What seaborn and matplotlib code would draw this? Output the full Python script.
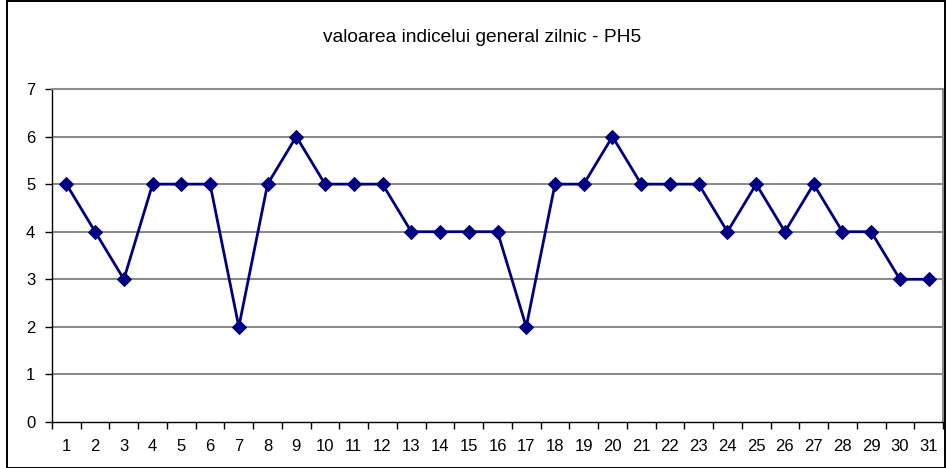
import matplotlib
matplotlib.use("Agg")
import matplotlib.pyplot as plt
import seaborn as sns
import pandas as pd
from matplotlib.patches import Rectangle
from matplotlib.ticker import FixedLocator

days = list(range(1, 32))
values = [5, 4, 3, 5, 5, 5, 2, 5, 6, 5, 5, 5, 4, 4, 4, 4, 2, 5, 5, 6, 5, 5, 5, 4, 5, 4, 5, 4, 4, 3, 3]
title = "valoarea indicelui general zilnic - PH5"

sns.set_theme(style="white")
plt.rcParams['font.family'] = ['Liberation Sans', 'DejaVu Sans']

df = pd.DataFrame({"zi": days, "valoare": values})

fig = plt.figure(figsize=(9.46, 4.68), dpi=100)
W, H = 946, 468
ax = fig.add_axes([52 / W, (H - 422) / H, 891 / W, 333 / H])

# outer frame
fig.patches.append(Rectangle((7 / W, 0.5 / H), (945 - 7) / W, (H - 1) / H,
                             transform=fig.transFigure, fill=False,
                             edgecolor="black", linewidth=1.4, zorder=0))

for y in range(1, 8):
    ax.axhline(y, color="#737373", linewidth=1.2, zorder=1)

sns.lineplot(data=df, x="zi", y="valoare", ax=ax, color="#000080",
             linewidth=2, marker="D", markersize=7.5, markeredgecolor="#000080",
             zorder=3)

ax.set_xlim(0.5, 31.5)
ax.set_ylim(0, 7)
ax.set_xticks(days)
ax.set_xticklabels([str(d) for d in days], fontsize=12, color="black")
ax.set_yticks(range(0, 8))
ax.set_yticklabels([str(v) for v in range(0, 8)], fontsize=12, color="black")
ax.xaxis.set_minor_locator(FixedLocator([d + 0.5 for d in range(0, 32)]))
ax.tick_params(axis="x", which="major", bottom=False, length=0, pad=12)
ax.tick_params(axis="x", which="minor", bottom=True, length=5, width=1, color="black", direction="out")
ax.tick_params(axis="y", which="major", left=True, length=5, width=1, color="black", direction="out", pad=7)
ax.set_xlabel("")
ax.set_ylabel("")

for side in ["left", "bottom"]:
    ax.spines[side].set_color("black")
    ax.spines[side].set_linewidth(1.0)
for side in ["top", "right"]:
    ax.spines[side].set_color("#8c8c8c")
    ax.spines[side].set_linewidth(1.5)
ax.spines["bottom"].set_zorder(4)

fig.text(482 / W, 1 - 38 / H, title, ha="center", va="center", fontsize=13.8, color="black")

fig.savefig("out.png", dpi=100)
